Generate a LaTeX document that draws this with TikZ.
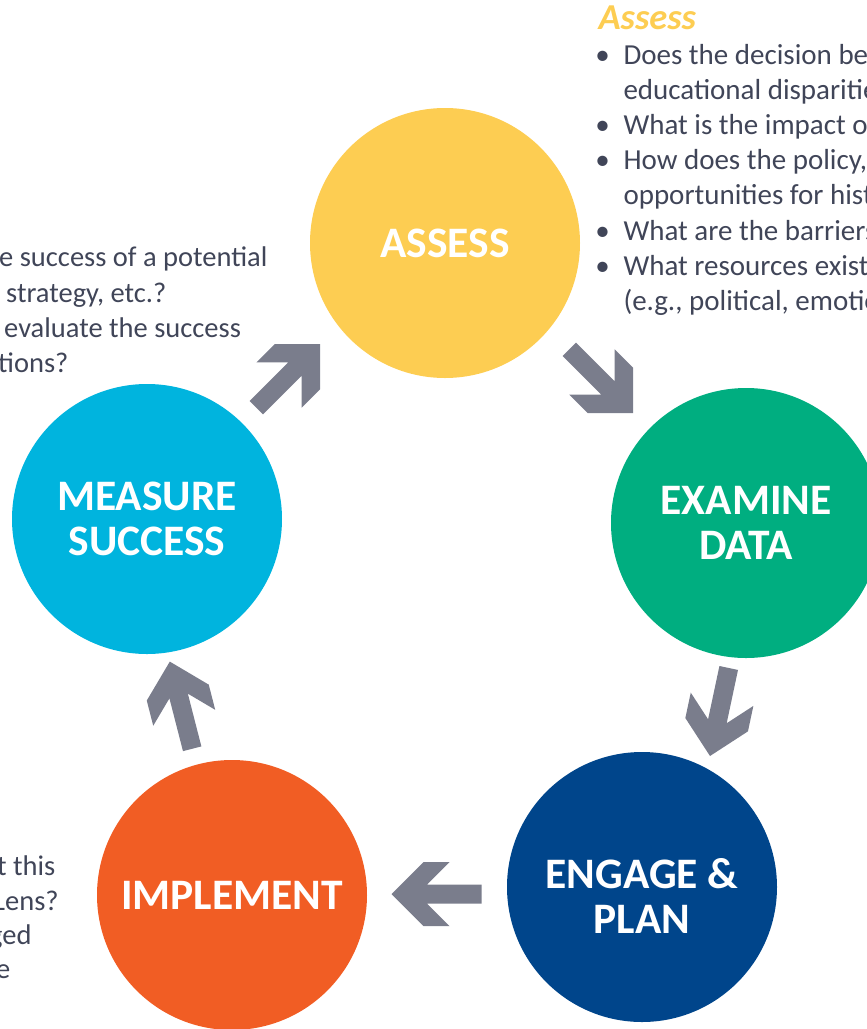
\documentclass[tikz,border=0pt]{standalone}
\usepackage{fontspec}
\setmainfont{Carlito}
\definecolor{cyel}{HTML}{FDCD52}
\definecolor{cgrn}{HTML}{00AE80}
\definecolor{cblu}{HTML}{00458B}
\definecolor{corg}{HTML}{F15D24}
\definecolor{ccya}{HTML}{00B4DE}
\definecolor{carr}{HTML}{7A7D8C}
\definecolor{ctxt}{HTML}{404558}
\tikzset{
  stage/.style={circle, minimum size=270pt, inner sep=0pt, text=white,
    font=\fontsize{43.5}{45}\selectfont\bfseries, align=center},
  stagetext/.style={inner sep=0pt, text=white,
    font=\fontsize{43.5}{45}\selectfont\bfseries, align=center},
  bodytext/.style={anchor=base west, inner sep=0pt, text=ctxt,
    font=\fontsize{28.5}{35}\selectfont},
  righttext/.style={anchor=base west, inner sep=0pt, text=ctxt,
    font=\fontsize{29}{35}\selectfont},
  bul/.style={anchor=base, inner sep=0pt, text=ctxt,
    font=\fontsize{29}{35}\selectfont},
  heading/.style={anchor=base west, inner sep=0pt, text=cyel,
    font=\fontsize{36.5}{40}\selectfont\bfseries\itshape},
  chev/.pic={\fill[carr] (0,0) -- (-32,32) -- (-58,32) -- (-35.5,9.5) -- (-90,9.5)
    -- (-90,-9.5) -- (-35.5,-9.5) -- (-58,-32) -- (-32,-32) -- cycle;}
}
\begin{document}
\begin{tikzpicture}[x=1pt,y=-1pt]
\useasboundingbox (0,0) rectangle (867,1029);
\clip (0,0) rectangle (867,1029);

% stages
\node[stage, fill=cyel] (assess) at (445,243) {ASSESS};
\node[stage, fill=cgrn] (examine) at (746,523) {EXAMINE\\DATA};
\node[stage, fill=cblu] (engage) at (642,887) {};
\node[stagetext] (engagetxt) at (642,896) {ENGAGE \&\\PLAN};
\node[stage, fill=corg] (implement) at (232,895) {IMPLEMENT};
\node[stage, fill=ccya] (measure) at (147,519) {MEASURE\\SUCCESS};

% arrows between stages
\pic[rotate=-45] at (633,413) {chev};
\pic[rotate=258] at (710,756) {chev};
\pic[rotate=180] at (391.5,894) {chev};
\pic[rotate=104.4] at (169.8,661.6) {chev};
\pic[rotate=45] at (320,344) {chev};

% Assess text (top right)
\node[heading] (hd) at (598.3,29.3) {Assess};
\node[bul] (b1) at (602.5,64.5) {•};
\node[righttext] (t1) at (623.3,64.5) {Does the decision be};
\node[righttext] (t2) at (623.3,99.6) {educational disparitie};
\node[bul] (b3) at (602.5,134.7) {•};
\node[righttext] (t3) at (623.3,134.7) {What is the impact o};
\node[bul] (b4) at (602.5,169.8) {•};
\node[righttext] (t4) at (623.3,169.8) {How does the policy,};
\node[righttext] (t5) at (623.3,204.9) {opportunities for hist};
\node[bul] (b6) at (602.5,240) {•};
\node[righttext] (t6) at (623.3,240) {What are the barriers};
\node[bul] (b7) at (602.5,275.1) {•};
\node[righttext] (t7) at (623.3,275.1) {What resources exist};
\node[righttext] (t8) at (623.3,310.2) {(e.g., political, emotio};

% Measure text (top left, cut)
\node[bodytext] (m1) at (-1,266.7) {e success of a potential};
\node[bodytext] (m2) at (6,302.5) {strategy, etc.?};
\node[bodytext] (m3) at (4,337.5) {evaluate the success};
\node[bodytext] (m4) at (-2,372) {tions?};

% Implement text (bottom left, cut)
\node[bodytext] (i1) at (-3,875) {t this};
\node[bodytext] (i2) at (-7,910) {Lens?};
\node[bodytext] (i3) at (-11,944) {ged};
\node[bodytext] (i4) at (-4,978) {e};
\end{tikzpicture}
\end{document}
